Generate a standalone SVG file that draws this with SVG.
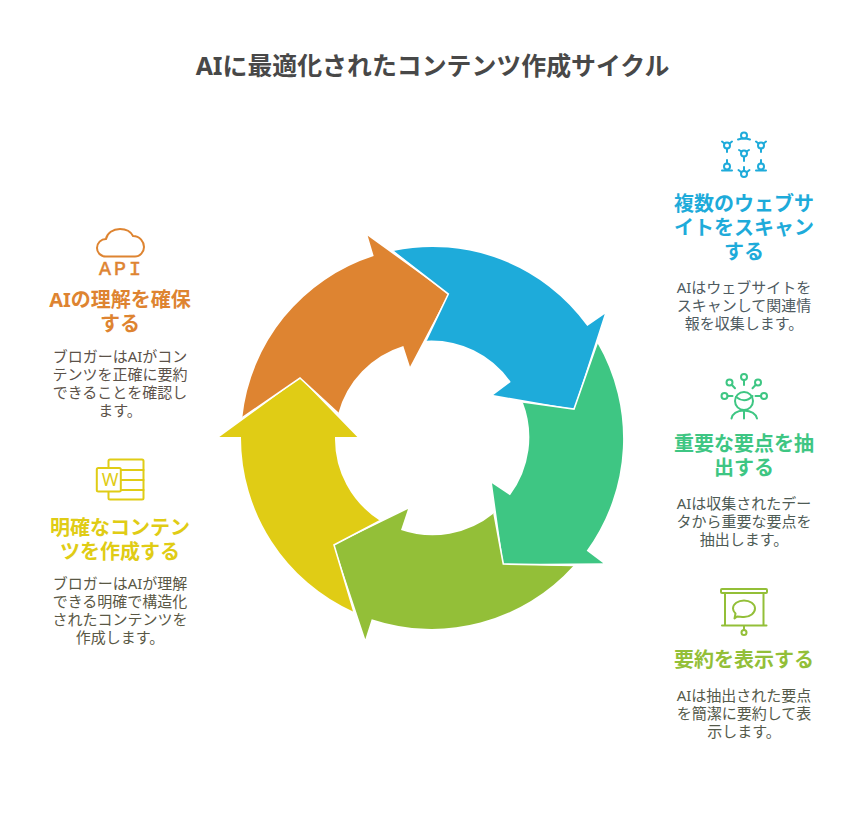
<svg xmlns="http://www.w3.org/2000/svg" width="864" height="816" viewBox="0 0 864 816">
<style>
text{font-family:"Noto Sans","Noto Sans CJK JP",sans-serif;text-anchor:middle}
.t{font-size:24.9px;font-weight:700;fill:#484848}
.h{font-size:20px;font-weight:700}
.d{font-size:15px}
.sep{fill:none;stroke:#fff;stroke-width:1.6;stroke-linejoin:miter}
.i{fill:none;stroke-width:2;stroke-linecap:round;stroke-linejoin:round}
.blue{fill:#1eabda}.green{fill:#3ec683}.olive{fill:#93bf38}.yellow{fill:#e0cc15}.orange{fill:#de8431}
.sb{stroke:#1eabda}.sg{stroke:#3ec683}.so{stroke:#93bf38}.sy{stroke:#e0cc15}.sr{stroke:#de8431}
</style>
<rect width="864" height="816" fill="#fff"/>
<text id="title" class="t" x="432.5" y="75">AIに最適化されたコンテンツ作成サイクル</text>
<g id="connectors">
<path id="arrow-blue" class="blue" d="M393.3,251A191,191 0 0 1 587.3,326L604.7,314L574,409L493.3,395L510.7,382A97,97 0 0 0 426,340.7L448.3,294Z"/>
<path id="arrow-green" class="green" d="M597.3,342.7A191,191 0 0 1 586.7,550.7L603.3,563.3L503.3,564L492,483.3L510,495.3A97,97 0 0 0 522.7,402L574,409Z"/>
<path id="arrow-olive" class="olive" d="M573.3,566A191,191 0 0 1 371.7,619.300L365.300,639.300L334,545L408,509L401,530A97,97 0 0 0 494,513.300L503.300,564Z"/>
<path id="arrow-yellow" class="yellow" d="M354,612A191,191 0 0 1 241,437L219.300,437L300,378L357.300,437L335,437A97,97 0 0 0 380,520.700L334,545Z"/>
<path id="arrow-orange" class="orange" d="M242.300,417.700A191,191 0 0 1 373.700,256L367.700,235.700L448.300,294L410,366.700L403.300,346A97,97 0 0 0 338.300,413.300L300,378Z"/>
<path class="sep" d="M393.300,251.500L448.300,294L426,340.700M597.300,342.700L574,409L522.700,402M573.300,565.500L503.300,564L494,513.300M354,612L334,545L380,520.700M242.300,417.700L300,378L338.300,413.300"/>
</g>
<g id="node-scan">
<g class="i sb">
<circle cx="744" cy="135.500" r="3"/><path d="M738,139.500Q744,137.500 750,139.500"/>
<circle cx="744" cy="153.500" r="3"/><path d="M739,150L741.500,151.500M749,150L746.500,151.500M744,156.500V161"/>
<circle cx="727" cy="145.500" r="3"/><path d="M727,148.500V152M722,141.500L724.500,143.500M732,141.500L729.500,143.500"/>
<circle cx="761" cy="145.500" r="3"/><path d="M761,148.500V152M756,141.500L758.500,143.500M766,141.500L763.500,143.500"/>
<circle cx="727" cy="166.500" r="3"/><path d="M727,163.500V160M722,170.500H732"/>
<circle cx="761" cy="166.500" r="3"/><path d="M761,163.500V160M756,170.500H766"/>
<circle cx="744" cy="174" r="3"/><path d="M744,171V167M738.500,170L741,172M749.500,170L747,172"/>
</g>
<text class="h blue" x="744" y="211">複数のウェブサ</text>
<text class="h blue" x="744" y="235">イトをスキャン</text>
<text class="h blue" x="744" y="259">する</text>
<text class="d" fill="#4e5a5f" x="744" y="293">AIはウェブサイトを</text>
<text class="d" fill="#4e5a5f" x="744" y="311">スキャンして関連情</text>
<text class="d" fill="#4e5a5f" x="744" y="329">報を収集します。</text>
</g>
<g id="node-extract">
<g class="i sg">
<circle cx="744" cy="377" r="3"/><path d="M744,380V385"/>
<circle cx="729.500" cy="382.500" r="3"/><path d="M731.700,384.700L735,388.300"/>
<circle cx="758" cy="382.500" r="3"/><path d="M755.800,384.700L752.500,388.300"/>
<circle cx="724.500" cy="396" r="3"/><path d="M727.500,396H732.500"/>
<circle cx="764" cy="396" r="3"/><path d="M761,396H755.500"/>
<circle cx="744" cy="401" r="9"/><path d="M736,397Q745,404 752.500,396"/>
<path d="M731.500,418.500Q733,411 744,410.500Q755,411 757,418.500M744,410.500V418.500"/>
</g>
<text class="h green" x="744" y="451">重要な要点を抽</text>
<text class="h green" x="744" y="475">出する</text>
<text class="d" fill="#4e5b55" x="744" y="509">AIは収集されたデー</text>
<text class="d" fill="#4e5b55" x="744" y="527">タから重要な要点を</text>
<text class="d" fill="#4e5b55" x="744" y="545">抽出します。</text>
</g>
<g id="node-show">
<g class="i so">
<rect x="721" y="589" width="46" height="4" rx="1"/>
<path d="M725,593V625.500M763.500,593V625.500M722,625.500H766.500M744,625.500V630"/>
<circle cx="744" cy="632.500" r="2.500"/>
<path d="M737,616.500L734.500,618.500L735.500,613.500C733.500,611.500 733,609.500 733,608.500C733,604 738,600.500 744,600.500C750,600.500 755,604 755,608.500C755,613 750,617 744,617C741.500,617 739,616.500 737,616.500Z"/>
</g>
<text class="h olive" x="744" y="667">要約を表示する</text>
<text class="d" fill="#555a4a" x="744" y="701">AIは抽出された要点</text>
<text class="d" fill="#555a4a" x="744" y="719">を簡潔に要約して表</text>
<text class="d" fill="#555a4a" x="744" y="737">示します。</text>
</g>
<g id="node-understand">
<path class="i sr" d="M106,256.500C100,256.500 97,252 97,248C97,243 101,239 106,239C107,233 113,229 120,229C126,229 131,232 133,236C140,236 144,242 144,247C144,252 140,256.500 135,256.500Z"/>
<text class="orange sr" x="121.500" y="275" style="font-family:'Liberation Mono',monospace;font-size:20px;stroke-width:.5" letter-spacing="3">API</text>
<text class="h orange" x="120" y="307">AIの理解を確保</text>
<text class="h orange" x="120" y="331">する</text>
<text class="d" fill="#5c5249" x="120" y="362">ブロガーはAIがコン</text>
<text class="d" fill="#5c5249" x="120" y="380">テンツを正確に要約</text>
<text class="d" fill="#5c5249" x="120" y="398">できることを確認し</text>
<text class="d" fill="#5c5249" x="120" y="416">ます。</text>
</g>
<g id="node-create">
<g class="i sy">
<rect x="108.500" y="459.500" width="35" height="40" rx="1.500"/>
<path d="M120.700,470H143.500M120.700,480H143.500M120.700,490H143.500"/>
<rect x="96.800" y="468" width="24" height="23.500" rx="1.500" fill="#fff"/>
</g>
<text class="yellow" x="110" y="486" style="font-size:18px">W</text>
<text class="h yellow" x="120" y="535">明確なコンテン</text>
<text class="h yellow" x="120" y="559">ツを作成する</text>
<text class="d" fill="#5a5845" x="120" y="589">ブロガーはAIが理解</text>
<text class="d" fill="#5a5845" x="120" y="607">できる明確で構造化</text>
<text class="d" fill="#5a5845" x="120" y="625">されたコンテンツを</text>
<text class="d" fill="#5a5845" x="120" y="643">作成します。</text>
</g>
</svg>
